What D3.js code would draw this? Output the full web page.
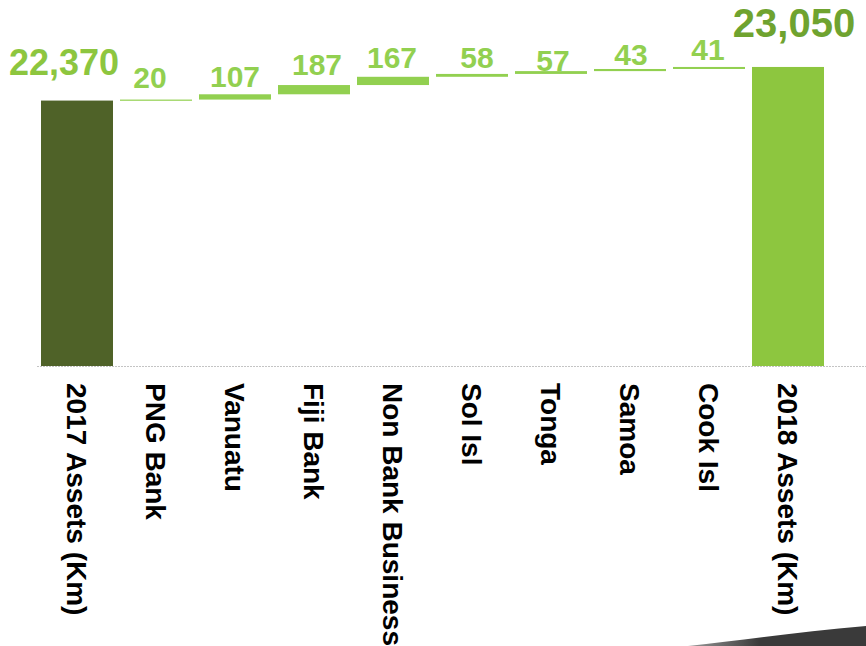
<!DOCTYPE html>
<html>
<head>
<meta charset="utf-8">
<script src="https://cdn.jsdelivr.net/npm/d3@7"></script>
<style>
  body { margin: 0; background: #fff; }
  svg { display: block; font-family: "Liberation Sans", Arial, sans-serif; }
</style>
</head>
<body>
<div id="chart"></div>
<script>
// Waterfall of assets 2017 -> 2018 (Km)
const categories = ["2017 Assets (Km)", "PNG Bank", "Vanuatu", "Fiji Bank", "Non Bank Business",
                    "Sol Isl", "Tonga", "Samoa", "Cook Isl", "2018 Assets (Km)"];
const values = [22370, 20, 107, 187, 167, 58, 57, 43, 41, 23050];
const kinds = ["total", "step", "step", "step", "step", "step", "step", "step", "step", "total"];
const yDomain = [17000, 24000];

// label nudges (px) to follow the hand-placed labels of the original
const labelDx = [-13, -6, 0, 3, -1, 5, 2, 1, -1, 6];
const labelGap = [26, 12, 7, 10, 9, 6, 0, 4, 7, 30];

const width = 866, height = 646;
const baseY = 366;

const svg = d3.select("#chart").append("svg")
    .attr("width", width)
    .attr("height", height);

// decorative swoosh bottom right
const defs = svg.append("defs");
const grad = defs.append("linearGradient").attr("id", "swoosh")
    .attr("x1", "0%").attr("x2", "100%").attr("y1", "0%").attr("y2", "0%");
grad.append("stop").attr("offset", "0%").attr("stop-color", "#9a9a9a");
grad.append("stop").attr("offset", "40%").attr("stop-color", "#3a3a3a");
grad.append("stop").attr("offset", "100%").attr("stop-color", "#3a3a3a");
svg.append("path")
    .attr("d", "M688,646 C740,640 800,632 866,626 L866,646 Z")
    .attr("fill", "url(#swoosh)");

const x = d3.scaleBand()
    .domain(categories)
    .range([41, 824])
    .paddingInner(7 / 79)
    .paddingOuter(0);

const y = d3.scaleLinear()
    .domain(yDomain)
    .range([baseY, 20]);

// build waterfall rows
let running = 0;
const rows = categories.map((c, i) => {
    let start, end;
    if (kinds[i] === "total") {
        start = yDomain[0];
        end = values[i];
        running = values[i];
    } else {
        start = running;
        end = running + values[i];
        running = end;
    }
    return { cat: c, value: values[i], kind: kinds[i], start: start, end: end, i: i };
});

const barColor = d => d.i === 0 ? "#4f6228" : (d.kind === "total" ? "#8dc63f" : "#92d050");

svg.append("g").selectAll("rect")
    .data(rows)
    .join("rect")
    .attr("x", d => x(d.cat))
    .attr("width", x.bandwidth())
    .attr("y", d => y(d.end))
    .attr("height", d => Math.max(1.2, y(d.start) - y(d.end)))
    .attr("fill", barColor);

// dotted baseline
svg.append("line")
    .attr("x1", 37).attr("x2", width)
    .attr("y1", baseY + 0.5).attr("y2", baseY + 0.5)
    .attr("stroke", "#c4c4c4")
    .attr("stroke-width", 1)
    .attr("stroke-dasharray", "2,1");

// value labels
const fmt = d3.format(",");
svg.append("g").selectAll("text")
    .data(rows)
    .join("text")
    .attr("x", d => x(d.cat) + x.bandwidth() / 2 + labelDx[d.i])
    .attr("y", d => y(d.end) - labelGap[d.i])
    .attr("text-anchor", "middle")
    .attr("font-weight", "bold")
    .attr("font-size", d => d.i === 0 ? 36 : (d.kind === "total" ? 40 : 30))
    .attr("fill", d => d.i === 9 ? "#6fa32f" : (d.i === 0 ? "#8dc63f" : "#92d050"))
    .text(d => fmt(d.value));

// category labels, rotated
svg.append("g").selectAll("text")
    .data(rows)
    .join("text")
    .attr("transform", d => `translate(${x(d.cat) + x.bandwidth() / 2 - 10},383) rotate(90)`)
    .attr("text-anchor", "start")
    .attr("font-weight", "bold")
    .attr("font-size", 28)
    .attr("fill", "#000")
    .text(d => d.cat);
</script>
</body>
</html>
